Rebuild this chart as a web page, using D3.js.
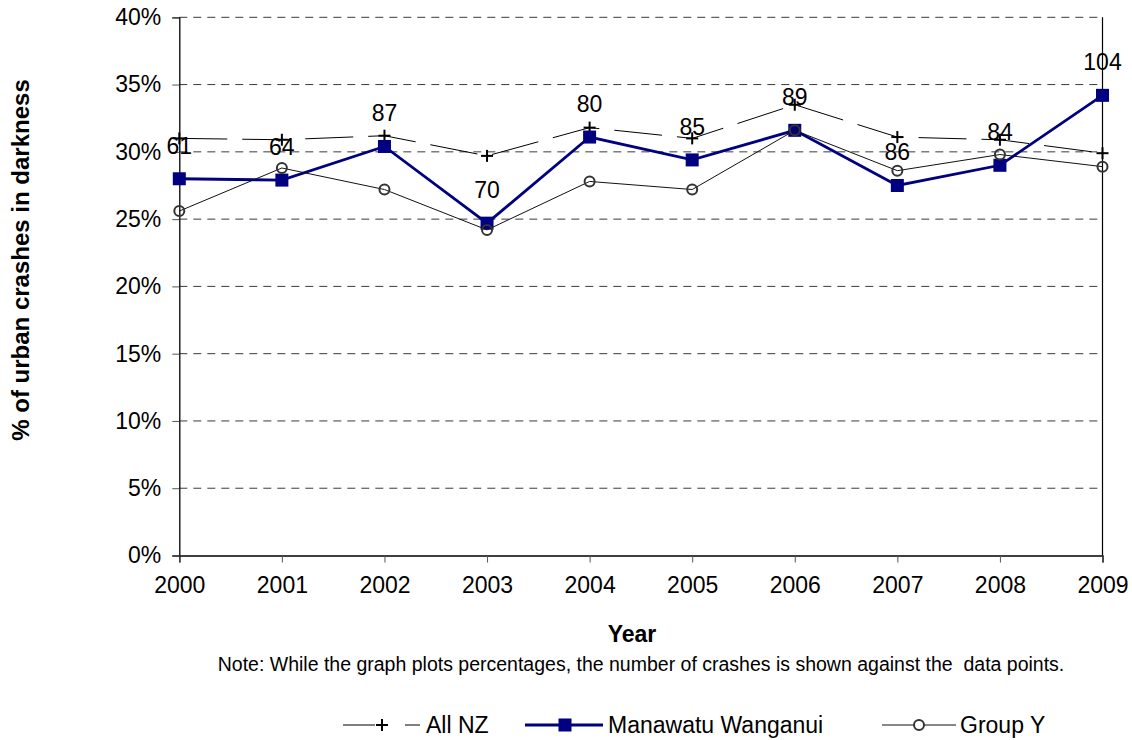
<!DOCTYPE html>
<html>
<head>
<meta charset="utf-8">
<script src="https://cdn.jsdelivr.net/npm/d3@7"></script>
<style>
  html, body { margin: 0; padding: 0; background: #fff; }
  text { font-family: Arial, "Liberation Sans", sans-serif; fill: #000; }
</style>
</head>
<body>
<svg id="chart" width="1132" height="740"></svg>
<script>
// ---- data ----
const years = [2000, 2001, 2002, 2003, 2004, 2005, 2006, 2007, 2008, 2009];
const allNZ = [31.0, 30.9, 31.2, 29.7, 31.8, 31.0, 33.5, 31.1, 30.9, 29.9];
const manawatuWanganui = [28.0, 27.9, 30.4, 24.7, 31.1, 29.4, 31.6, 27.5, 29.0, 34.2];
const groupY = [25.6, 28.8, 27.2, 24.2, 27.8, 27.2, 31.6, 28.6, 29.8, 28.9];
const crashCounts = [61, 64, 87, 70, 80, 85, 89, 86, 84, 104];
const yTicks = [0, 5, 10, 15, 20, 25, 30, 35, 40];
const seriesNames = ["All NZ", "Manawatu Wanganui", "Group Y"];

// ---- layout ----
const svg = d3.select("#chart");
const pL = 179.3, pR = 1102.5, pT = 17.3, pB = 555.5;
const x = d3.scaleLinear().domain([2000, 2009]).range([pL, pR]);
const y = d3.scaleLinear().domain([0, 40]).range([pB, pT]);
const navy = "#000080";
const FONT = "Arial, 'Liberation Sans', sans-serif";

// gridlines
svg.append("g").selectAll("line").data(yTicks.filter(d => d > 0)).join("line")
  .attr("x1", pL).attr("x2", pR)
  .attr("y1", d => y(d)).attr("y2", d => y(d))
  .attr("stroke", "#3a3a3a").attr("stroke-width", 1)
  .attr("stroke-dasharray", "8,6");

// right border
svg.append("line").attr("x1", pR).attr("x2", pR).attr("y1", pT).attr("y2", pB)
  .attr("stroke", "#000").attr("stroke-width", 1.2);

// y axis
const yAxis = d3.axisLeft(y).tickValues(yTicks).tickFormat(d => d + "%").tickSize(7).tickPadding(11);
const gy = svg.append("g").attr("transform", `translate(${pL},0)`).call(yAxis);
gy.select(".domain").attr("stroke", "#000").attr("stroke-width", 1.3);
gy.selectAll(".tick line").attr("stroke", "#555");
gy.selectAll("text").style("font-size", "23px").style("font-family", FONT).attr("fill", "#000");

// x axis
const xAxis = d3.axisBottom(x).tickValues(years).tickFormat(d3.format("d")).tickSize(7).tickPadding(14);
const gx = svg.append("g").attr("transform", `translate(0,${pB})`).call(xAxis);
gx.select(".domain").attr("stroke", "#000").attr("stroke-width", 1.5);
gx.selectAll(".tick line").attr("stroke", "#555");
gx.selectAll("text").style("font-size", "23px").style("font-family", FONT).attr("fill", "#000");

// ---- series ----
const line = d3.line().x((d, i) => x(years[i])).y(d => y(d));

// All NZ
svg.append("path").datum(allNZ).attr("d", line)
  .attr("fill", "none").attr("stroke", "#000").attr("stroke-width", 1)
  .attr("stroke-dasharray", "48,15");
const plus = (g, cx, cy, s) => {
  g.append("line").attr("x1", cx - s).attr("x2", cx + s).attr("y1", cy).attr("y2", cy)
    .attr("stroke", "#000").attr("stroke-width", 2);
  g.append("line").attr("x1", cx).attr("x2", cx).attr("y1", cy - s).attr("y2", cy + s)
    .attr("stroke", "#000").attr("stroke-width", 2);
};
const gPlus = svg.append("g");
allNZ.forEach((v, i) => plus(gPlus, x(years[i]), y(v), 6));

// Manawatu Wanganui
svg.append("path").datum(manawatuWanganui).attr("d", line)
  .attr("fill", "none").attr("stroke", navy).attr("stroke-width", 2.8);
svg.append("g").selectAll("rect").data(manawatuWanganui).join("rect")
  .attr("x", (d, i) => x(years[i]) - 6.5).attr("y", d => y(d) - 6.5)
  .attr("width", 13).attr("height", 13).attr("fill", navy);

// Group Y
svg.append("path").datum(groupY).attr("d", line)
  .attr("fill", "none").attr("stroke", "#111").attr("stroke-width", 1);
svg.append("g").selectAll("circle").data(groupY).join("circle")
  .attr("cx", (d, i) => x(years[i])).attr("cy", d => y(d)).attr("r", 5)
  .attr("fill", "none").attr("stroke", "#333").attr("stroke-width", 2);

// crash count labels
svg.append("g").selectAll("text").data(crashCounts).join("text")
  .attr("x", (d, i) => x(years[i])).attr("y", (d, i) => y(manawatuWanganui[i]) - 25)
  .attr("text-anchor", "middle").style("font-size", "23px").text(d => d);

// ---- titles ----
svg.append("text").attr("transform", "translate(29,260) rotate(-90)")
  .attr("text-anchor", "middle").style("font-size", "24px").style("font-weight", "bold")
  .text("% of urban crashes in darkness");
svg.append("text").attr("x", 632).attr("y", 642).attr("text-anchor", "middle")
  .style("font-size", "23px").style("font-weight", "bold").text("Year");
svg.append("text").attr("x", 641).attr("y", 671).attr("text-anchor", "middle")
  .style("font-size", "19.5px").style("white-space", "pre")
  .text("Note: While the graph plots percentages, the number of crashes is shown against the  data points.");

// ---- legend ----
const ly = 725;
const lg = svg.append("g");
// All NZ
lg.append("line").attr("x1", 343).attr("x2", 420).attr("y1", ly).attr("y2", ly)
  .attr("stroke", "#000").attr("stroke-width", 1).attr("stroke-dasharray", "32,30,15,0");
plus(lg, 382, ly, 6);
lg.append("text").attr("x", 426).attr("y", ly + 8).style("font-size", "23px").text(seriesNames[0]);
// Manawatu
lg.append("line").attr("x1", 525).attr("x2", 603).attr("y1", ly).attr("y2", ly)
  .attr("stroke", navy).attr("stroke-width", 2.8);
lg.append("rect").attr("x", 565 - 6.5).attr("y", ly - 6.5).attr("width", 13).attr("height", 13).attr("fill", navy);
lg.append("text").attr("x", 608).attr("y", ly + 8).style("font-size", "23px").text(seriesNames[1]);
// Group Y
lg.append("line").attr("x1", 882).attr("x2", 956).attr("y1", ly).attr("y2", ly)
  .attr("stroke", "#111").attr("stroke-width", 1);
lg.append("circle").attr("cx", 919).attr("cy", ly).attr("r", 5)
  .attr("fill", "#fff").attr("stroke", "#333").attr("stroke-width", 2);
lg.append("text").attr("x", 960).attr("y", ly + 8).style("font-size", "23px").text(seriesNames[2]);
</script>
</body>
</html>
